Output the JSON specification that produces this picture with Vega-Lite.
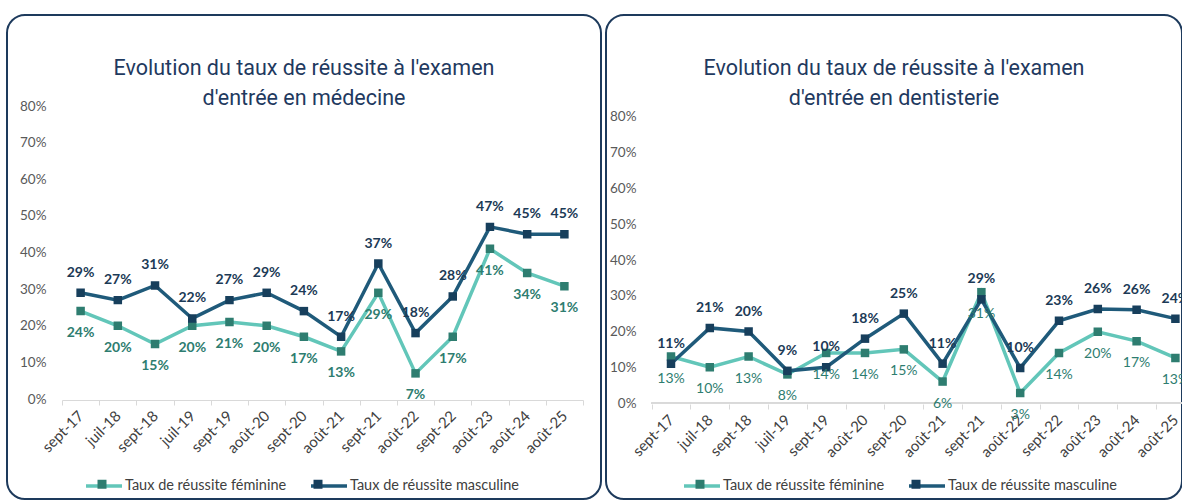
{
  "$schema": "https://vega.github.io/schema/vega-lite/v6.json",
  "background": "white",
  "padding": {"left": 1, "top": 14, "right": 0, "bottom": 0},
  "spacing": -2,
  "datasets": {
    "medecine": [
      {"periode": "sept-17", "serie": "Taux de réussite féminine", "taux": 0.24},
      {"periode": "juil-18", "serie": "Taux de réussite féminine", "taux": 0.20},
      {"periode": "sept-18", "serie": "Taux de réussite féminine", "taux": 0.15},
      {"periode": "juil-19", "serie": "Taux de réussite féminine", "taux": 0.20},
      {"periode": "sept-19", "serie": "Taux de réussite féminine", "taux": 0.21},
      {"periode": "août-20", "serie": "Taux de réussite féminine", "taux": 0.20},
      {"periode": "sept-20", "serie": "Taux de réussite féminine", "taux": 0.17},
      {"periode": "août-21", "serie": "Taux de réussite féminine", "taux": 0.13},
      {"periode": "sept-21", "serie": "Taux de réussite féminine", "taux": 0.29},
      {"periode": "août-22", "serie": "Taux de réussite féminine", "taux": 0.07},
      {"periode": "sept-22", "serie": "Taux de réussite féminine", "taux": 0.17},
      {"periode": "août-23", "serie": "Taux de réussite féminine", "taux": 0.41},
      {"periode": "août-24", "serie": "Taux de réussite féminine", "taux": 0.344},
      {"periode": "août-25", "serie": "Taux de réussite féminine", "taux": 0.308},
      {"periode": "sept-17", "serie": "Taux de réussite masculine", "taux": 0.29},
      {"periode": "juil-18", "serie": "Taux de réussite masculine", "taux": 0.27},
      {"periode": "sept-18", "serie": "Taux de réussite masculine", "taux": 0.31},
      {"periode": "juil-19", "serie": "Taux de réussite masculine", "taux": 0.22},
      {"periode": "sept-19", "serie": "Taux de réussite masculine", "taux": 0.27},
      {"periode": "août-20", "serie": "Taux de réussite masculine", "taux": 0.29},
      {"periode": "sept-20", "serie": "Taux de réussite masculine", "taux": 0.24},
      {"periode": "août-21", "serie": "Taux de réussite masculine", "taux": 0.17},
      {"periode": "sept-21", "serie": "Taux de réussite masculine", "taux": 0.37},
      {"periode": "août-22", "serie": "Taux de réussite masculine", "taux": 0.18},
      {"periode": "sept-22", "serie": "Taux de réussite masculine", "taux": 0.28},
      {"periode": "août-23", "serie": "Taux de réussite masculine", "taux": 0.47},
      {"periode": "août-24", "serie": "Taux de réussite masculine", "taux": 0.45},
      {"periode": "août-25", "serie": "Taux de réussite masculine", "taux": 0.45}
    ],
    "dentisterie": [
      {"periode": "sept-17", "serie": "Taux de réussite féminine", "taux": 0.13},
      {"periode": "juil-18", "serie": "Taux de réussite féminine", "taux": 0.10},
      {"periode": "sept-18", "serie": "Taux de réussite féminine", "taux": 0.13},
      {"periode": "juil-19", "serie": "Taux de réussite féminine", "taux": 0.08},
      {"periode": "sept-19", "serie": "Taux de réussite féminine", "taux": 0.14},
      {"periode": "août-20", "serie": "Taux de réussite féminine", "taux": 0.14},
      {"periode": "sept-20", "serie": "Taux de réussite féminine", "taux": 0.15},
      {"periode": "août-21", "serie": "Taux de réussite féminine", "taux": 0.06},
      {"periode": "sept-21", "serie": "Taux de réussite féminine", "taux": 0.31},
      {"periode": "août-22", "serie": "Taux de réussite féminine", "taux": 0.028},
      {"periode": "sept-22", "serie": "Taux de réussite féminine", "taux": 0.14},
      {"periode": "août-23", "serie": "Taux de réussite féminine", "taux": 0.199},
      {"periode": "août-24", "serie": "Taux de réussite féminine", "taux": 0.173},
      {"periode": "août-25", "serie": "Taux de réussite féminine", "taux": 0.126},
      {"periode": "sept-17", "serie": "Taux de réussite masculine", "taux": 0.11},
      {"periode": "juil-18", "serie": "Taux de réussite masculine", "taux": 0.21},
      {"periode": "sept-18", "serie": "Taux de réussite masculine", "taux": 0.20},
      {"periode": "juil-19", "serie": "Taux de réussite masculine", "taux": 0.09},
      {"periode": "sept-19", "serie": "Taux de réussite masculine", "taux": 0.10},
      {"periode": "août-20", "serie": "Taux de réussite masculine", "taux": 0.18},
      {"periode": "sept-20", "serie": "Taux de réussite masculine", "taux": 0.25},
      {"periode": "août-21", "serie": "Taux de réussite masculine", "taux": 0.11},
      {"periode": "sept-21", "serie": "Taux de réussite masculine", "taux": 0.29},
      {"periode": "août-22", "serie": "Taux de réussite masculine", "taux": 0.098},
      {"periode": "sept-22", "serie": "Taux de réussite masculine", "taux": 0.23},
      {"periode": "août-23", "serie": "Taux de réussite masculine", "taux": 0.263},
      {"periode": "août-24", "serie": "Taux de réussite masculine", "taux": 0.261},
      {"periode": "août-25", "serie": "Taux de réussite masculine", "taux": 0.236}
    ]
  },
  "hconcat": [
    {
      "width": 594,
      "height": 484,
      "data": {"name": "medecine"},
      "title": {
        "text": ["Evolution du taux de réussite à l'examen", "d'entrée en médecine"],
        "anchor": "middle", "frame": "group", "font": "Roboto", "fontSize": 21.5,
        "fontWeight": "normal", "color": "#1f3a5f", "lineHeight": 30, "baseline": "top", "offset": -94
      },
      "encoding": {
        "x": {
          "field": "periode", "type": "nominal",
          "sort": ["sept-17","juil-18","sept-18","juil-19","sept-19","août-20","sept-20","août-21","sept-21","août-22","sept-22","août-23","août-24","août-25"],
          "scale": {"type": "band", "paddingInner": 0, "paddingOuter": 0, "range": [55, 576]},
          "axis": {
            "title": null, "orient": "bottom", "offset": -99, "labelAngle": -45, "labelAlign": "right",
            "labelBaseline": "middle", "labelPadding": 8, "tickBand": "extent", "ticks": true, "tickSize": 5,
            "tickColor": "#d9d9d9", "domainColor": "#d9d9d9", "labelColor": "#404040", "labelFontSize": 15,
            "labelFont": "Lato", "grid": false
          }
        },
        "y": {
          "field": "taux", "type": "quantitative",
          "scale": {"domain": [-0.273, 1.0485], "nice": false, "zero": false},
          "axis": {
            "title": null, "values": [0, 0.1, 0.2, 0.3, 0.4, 0.5, 0.6, 0.7, 0.8], "format": ".0%",
            "grid": false, "domain": false, "ticks": false, "labelPadding": 0, "offset": -39,
            "labelColor": "#595959", "labelFontSize": 13.5, "labelFont": "Lato"
          }
        }
      },
      "layer": [
        {
          "mark": {"type": "line", "strokeWidth": 3.5, "clip": true},
          "encoding": {
            "stroke": {
              "field": "serie", "type": "nominal",
              "scale": {"domain": ["Taux de réussite féminine", "Taux de réussite masculine"], "range": ["#62c6b9", "#1f5a7a"]},
              "legend": {
                "title": null, "orient": "none", "legendX": 77, "legendY": 451, "direction": "horizontal",
                "symbolType": "stroke", "symbolSize": 1296, "symbolStrokeWidth": 3.5, "labelFontSize": 14.5,
                "labelColor": "#404040", "labelFont": "Lato", "labelOffset": 1, "columnPadding": 17, "padding": 0, "labelLimit": 400
              }
            }
          }
        },
        {
          "mark": {"type": "point", "shape": "square", "filled": true, "size": 72, "opacity": 1, "clip": true},
          "encoding": {
            "fill": {
              "field": "serie", "type": "nominal",
              "scale": {"domain": ["Taux de réussite féminine", "Taux de réussite masculine"], "range": ["#2e7d70", "#173f5c"]},
              "legend": {
                "title": null, "orient": "none", "legendX": 77, "legendY": 451, "direction": "horizontal",
                "symbolType": "M-0.25,-0.25H0.25V0.25H-0.25Z", "symbolSize": 1296, "symbolStrokeWidth": 0,
                "symbolOpacity": 1, "labelFontSize": 14.5, "labelOpacity": 0, "labelFont": "Lato", "labelOffset": 1,
                "columnPadding": 17, "padding": 0, "labelLimit": 400
              }
            }
          }
        },
        {
          "transform": [{"filter": "datum.serie === 'Taux de réussite masculine'"}],
          "mark": {"type": "text", "dy": -20, "fontWeight": "bold", "fontSize": 14, "font": "Lato", "color": "#1c3a56", "clip": true},
          "encoding": {"text": {"field": "taux", "type": "quantitative", "format": ".0%"}}
        },
        {
          "transform": [{"filter": "datum.serie === 'Taux de réussite féminine'"}],
          "mark": {"type": "text", "dy": 22, "fontWeight": "bold", "fontSize": 14, "font": "Lato", "color": "#2e7d70", "clip": true},
          "encoding": {"text": {"field": "taux", "type": "quantitative", "format": ".0%"}}
        }
      ],
      "resolve": {"scale": {"stroke": "independent", "fill": "independent"}}
    },
    {
      "width": 576,
      "height": 484,
      "data": {"name": "dentisterie"},
      "title": {
        "text": ["Evolution du taux de réussite à l'examen", "d'entrée en dentisterie"],
        "anchor": "middle", "frame": "group", "font": "Roboto", "fontSize": 21.5,
        "fontWeight": "normal", "color": "#1f3a5f", "lineHeight": 30, "baseline": "top", "offset": -94
      },
      "encoding": {
        "x": {
          "field": "periode", "type": "nominal",
          "sort": ["sept-17","juil-18","sept-18","juil-19","sept-19","août-20","sept-20","août-21","sept-21","août-22","sept-22","août-23","août-24","août-25"],
          "scale": {"type": "band", "paddingInner": 0, "paddingOuter": 0, "range": [45.6, 588.8]},
          "axis": {
            "title": null, "orient": "bottom", "offset": -95, "labelAngle": -45, "labelAlign": "right",
            "labelBaseline": "middle", "labelPadding": 8, "tickBand": "extent", "tickExtra": false, "ticks": true, "tickSize": 5,
            "tickColor": "#d9d9d9", "domain": false, "labelColor": "#404040", "labelFontSize": 15,
            "labelFont": "Lato", "grid": false
          }
        },
        "y": {
          "field": "taux", "type": "quantitative",
          "scale": {"domain": [-0.2685, 1.0853], "nice": false, "zero": false},
          "axis": {
            "title": null, "values": [0, 0.1, 0.2, 0.3, 0.4, 0.5, 0.6, 0.7, 0.8], "format": ".0%",
            "grid": false, "domain": false, "ticks": false, "labelPadding": 0, "offset": -30,
            "labelColor": "#595959", "labelFontSize": 13.5, "labelFont": "Lato"
          }
        }
      },
      "layer": [
        {
          "mark": {"type": "rule", "color": "#d9d9d9", "strokeWidth": 1, "clip": true},
          "encoding": {
            "x": {"datum": "sept-17", "type": "nominal", "bandPosition": 0},
            "x2": {"datum": "août-25", "bandPosition": 1},
            "y": {"datum": 0, "type": "quantitative"}
          }
        },
        {
          "mark": {"type": "line", "strokeWidth": 3.5, "clip": true},
          "encoding": {
            "stroke": {
              "field": "serie", "type": "nominal",
              "scale": {"domain": ["Taux de réussite féminine", "Taux de réussite masculine"], "range": ["#62c6b9", "#1f5a7a"]},
              "legend": {
                "title": null, "orient": "none", "legendX": 76, "legendY": 451, "direction": "horizontal",
                "symbolType": "stroke", "symbolSize": 1296, "symbolStrokeWidth": 3.5, "labelFontSize": 14.5,
                "labelColor": "#404040", "labelFont": "Lato", "labelOffset": 1, "columnPadding": 17, "padding": 0, "labelLimit": 400
              }
            }
          }
        },
        {
          "mark": {"type": "point", "shape": "square", "filled": true, "size": 72, "opacity": 1, "clip": true},
          "encoding": {
            "fill": {
              "field": "serie", "type": "nominal",
              "scale": {"domain": ["Taux de réussite féminine", "Taux de réussite masculine"], "range": ["#2e7d70", "#173f5c"]},
              "legend": {
                "title": null, "orient": "none", "legendX": 76, "legendY": 451, "direction": "horizontal",
                "symbolType": "M-0.25,-0.25H0.25V0.25H-0.25Z", "symbolSize": 1296, "symbolStrokeWidth": 0,
                "symbolOpacity": 1, "labelFontSize": 14.5, "labelOpacity": 0, "labelFont": "Lato", "labelOffset": 1,
                "columnPadding": 17, "padding": 0, "labelLimit": 400
              }
            }
          }
        },
        {
          "transform": [{"filter": "datum.serie === 'Taux de réussite masculine'"}],
          "mark": {"type": "text", "dy": -20, "fontWeight": "bold", "fontSize": 14, "font": "Lato", "color": "#1c3a56", "clip": true},
          "encoding": {"text": {"field": "taux", "type": "quantitative", "format": ".0%"}}
        },
        {
          "transform": [{"filter": "datum.serie === 'Taux de réussite féminine'"}],
          "mark": {"type": "text", "dy": 22, "fontWeight": "normal", "fontSize": 14, "font": "Lato", "color": "#2e7d70", "clip": true},
          "encoding": {"text": {"field": "taux", "type": "quantitative", "format": ".0%"}}
        }
      ],
      "resolve": {"scale": {"stroke": "independent", "fill": "independent"}}
    }
  ],
  "resolve": {
    "scale": {"x": "independent", "y": "independent", "stroke": "independent", "fill": "independent"},
    "legend": {"stroke": "independent", "fill": "independent"}
  },
  "config": {
    "view": {"stroke": "#1d3a5c", "strokeWidth": 2, "cornerRadius": 18},
    "font": "Lato"
  }
}
